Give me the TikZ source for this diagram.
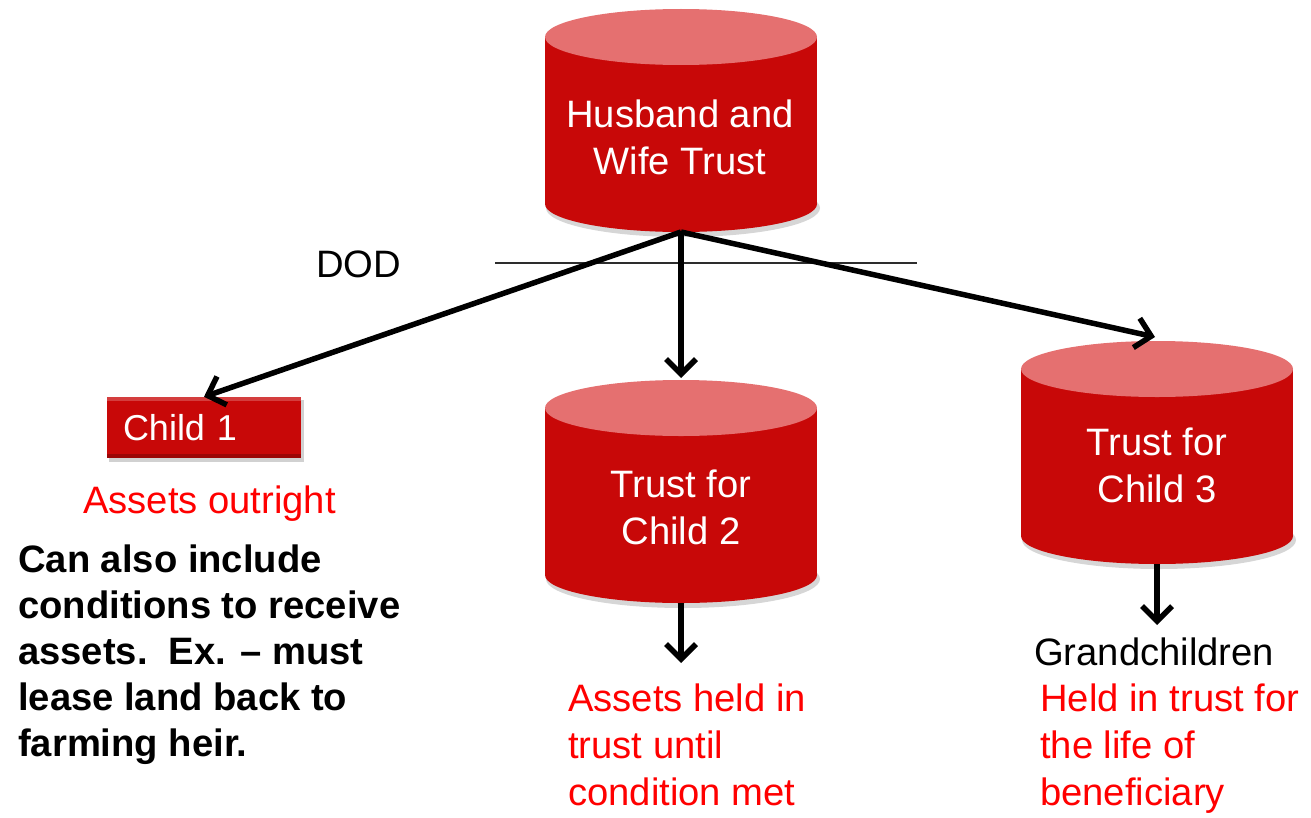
\documentclass[tikz,border=0pt]{standalone}
\usepackage{fontspec}
\setmainfont{Liberation Sans}
\usetikzlibrary{arrows.meta}

\definecolor{trustbody}{RGB}{200,8,8}
\definecolor{trusttop}{RGB}{229,112,112}
\definecolor{notered}{RGB}{255,0,0}
\definecolor{rule}{RGB}{45,45,45}

% multi-line labels are placed by the baseline of their last line
\tikzset{
  lbl/.style={font=\fontsize{38.2bp}{47bp}\selectfont, inner sep=0pt, align=left, anchor=base west},
  cyltext/.style={font=\fontsize{38.2bp}{47bp}\selectfont, text=white, inner sep=0pt, align=center, anchor=base},
  flow/.style={line width=5.5bp, -{Straight Barb[length=15bp,width=30bp]}},
  childbox/.style={fill=trustbody, text=white, minimum width=194bp, minimum height=61bp,
    inner xsep=16bp, text width=162bp, align=left, font=\fontsize{36bp}{44bp}\selectfont},
}

% drum-shaped store: #1 name, #2 centre x, #3 centre y of the lid, #4 centre y of the base
\newcommand{\trustcyl}[4]{%
  \fill[black,opacity=.16] (#2+2,#4+4) ellipse[x radius=137bp, y radius=29bp];
  \fill[trustbody] (#2,#4) ellipse[x radius=136bp, y radius=28bp];
  \fill[trustbody] (#2-136,#3) rectangle (#2+136,#4);
  \fill[trusttop] (#2,#3) ellipse[x radius=136bp, y radius=28bp];
  \coordinate (#1-top) at (#2,#3-28);
  \coordinate (#1-bot) at (#2,#4+28);
}

\begin{document}
\begin{tikzpicture}[x=1bp, y=-1bp]
\useasboundingbox (0,0) rectangle (1311,817);

% date-of-death rule
\coordinate (dod-l) at (495,263);
\coordinate (dod-r) at (917,263);
\draw[line width=1.3bp, rule] (dod-l) -- (dod-r);
\node[lbl] (dod) at (316,277) {DOD};

% stores
\trustcyl{hw}{681}{37}{204}
\node[cyltext] (hwlbl) at (680,174) {Husband and\\Wife Trust};

\trustcyl{c2}{681}{408}{575}
\node[cyltext] (c2lbl) at (681,544) {Trust for\\Child 2};

\trustcyl{c3}{1157}{369}{536}
\node[cyltext] (c3lbl) at (1157,502) {Trust for\\Child 3};

% outright gift
\fill[black,opacity=.18] (109,400) rectangle (304,462);
\node[childbox] (child1) at (204,427.5) {Child 1};
\fill[white,opacity=.22] (child1.north west) rectangle ([yshift=-4bp]child1.north east);
\fill[black,opacity=.22] ([yshift=4bp]child1.south west) rectangle (child1.south east);

% distributions
\coordinate (c2-end) at (681,663);
\coordinate (c3-end) at (1157,625);
\draw[flow] (hw-bot) -- (child1.north);
\draw[flow] (hw-bot) -- ([yshift=2bp]c2-top);
\draw[flow] (hw-bot) -- ([xshift=-2bp,yshift=4bp]c3-top);
\draw[flow] (c2-bot) -- (c2-end);
\draw[flow] (c3-bot) -- (c3-end);

% notes
\node[lbl, text=notered] (n1) at (83,513) {Assets outright};
\node[lbl, font=\bfseries\fontsize{38.2bp}{46bp}\selectfont] (n1b) at (18,756)
  {Can also include\\conditions to receive\\assets.\ \ Ex. – must\\lease land back to\\farming heir.};
\node[lbl, text=notered] (n2) at (568,805) {Assets held in\\trust until\\condition met};
\node[lbl] (gc) at (1034,665) {Grandchildren};
\node[lbl, text=notered] (n3) at (1040,805) {Held in trust for\\the life of\\beneficiary};
\end{tikzpicture}
\end{document}
